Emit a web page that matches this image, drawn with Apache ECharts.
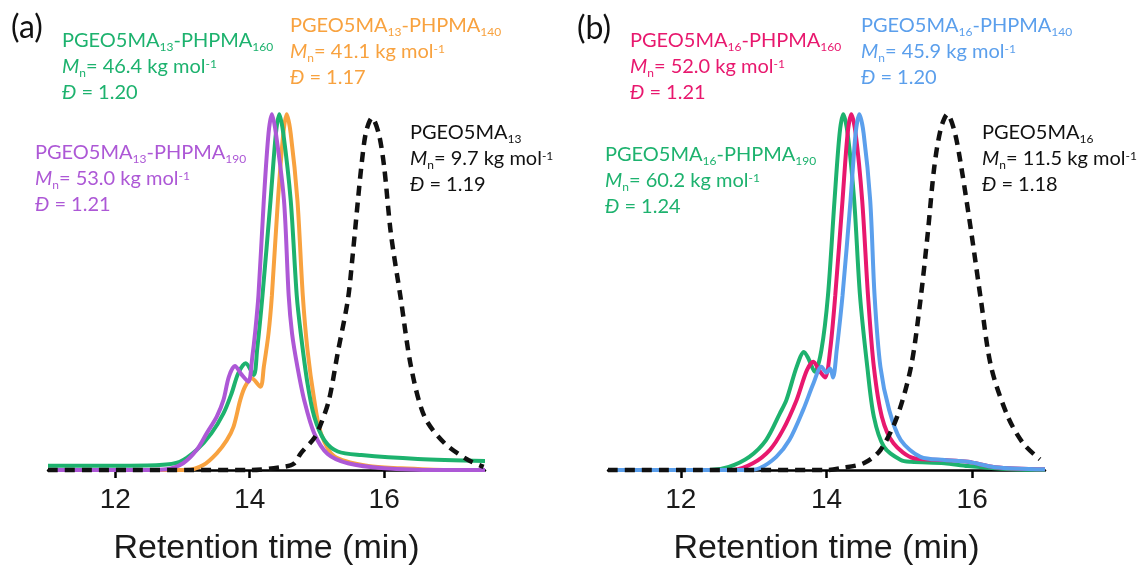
<!DOCTYPE html>
<html>
<head>
<meta charset="utf-8">
<script src="https://cdn.jsdelivr.net/npm/echarts@6/dist/echarts.min.js"></script>
<style>
  html, body { margin: 0; padding: 0; background: #fff; }
  #chart { width: 1142px; height: 565px; }
</style>
</head>
<body>
<div id="chart"></div>
<script>
// ---------- data (retention time in min, normalised RI signal) ----------
const xTickValues = [12, 14, 16];
const axisTitle = 'Retention time (min)';
const panelLabels = ['(a)', '(b)'];

// Panel (a): PGEO5MA13 series
const aPurple190 = [[11,0],[12.5,0],[12.76,0.002],[13.01,0.019],[13.21,0.056],[13.36,0.103],[13.51,0.15],[13.61,0.197],[13.69,0.262],[13.78,0.292],[13.88,0.268],[13.98,0.248],[14.04,0.32],[14.08,0.385],[14.13,0.49],[14.21,0.758],[14.28,0.946],[14.33,1.0],[14.39,0.946],[14.51,0.758],[14.58,0.49],[14.63,0.384],[14.71,0.29],[14.81,0.197],[14.96,0.103],[15.16,0.045],[15.46,0.019],[16.0,0.005],[16.8,0.0],[17.5,0]];
const aGreen160 = [[11,0.012],[12.0,0.012],[12.66,0.014],[12.96,0.023],[13.21,0.056],[13.43,0.103],[13.61,0.159],[13.73,0.215],[13.83,0.272],[13.94,0.30],[14.06,0.267],[14.11,0.337],[14.19,0.49],[14.31,0.758],[14.39,0.946],[14.44,1.0],[14.50,0.946],[14.61,0.758],[14.70,0.49],[14.76,0.384],[14.86,0.243],[14.96,0.15],[15.11,0.084],[15.31,0.052],[15.66,0.042],[16.5,0.031],[17.5,0.025]];
const aOrange140 = [[11,0],[13.06,0],[13.31,0.014],[13.51,0.047],[13.66,0.084],[13.76,0.122],[13.86,0.197],[13.93,0.234],[14.03,0.258],[14.16,0.234],[14.21,0.29],[14.28,0.384],[14.33,0.49],[14.42,0.758],[14.50,0.946],[14.55,1.0],[14.61,0.946],[14.71,0.758],[14.79,0.49],[14.86,0.337],[14.96,0.197],[15.06,0.103],[15.26,0.038],[15.76,0.011],[16.25,0.005],[17.0,0],[17.5,0]];
const aBlack13 = [[11,0],[14.0,0],[14.51,0.009],[14.66,0.018],[14.76,0.047],[14.96,0.09],[15.06,0.13],[15.18,0.197],[15.31,0.33],[15.46,0.478],[15.53,0.60],[15.61,0.758],[15.66,0.852],[15.73,0.95],[15.82,0.99],[15.92,0.945],[16.0,0.852],[16.1,0.665],[16.25,0.478],[16.4,0.29],[16.6,0.15],[16.9,0.075],[17.25,0.028],[17.48,0.009]];

// Panel (b): PGEO5MA16 series
const bGreen190 = [[11,0],[12.39,0],[12.66,0.009],[12.94,0.037],[13.17,0.084],[13.36,0.159],[13.45,0.197],[13.59,0.29],[13.69,0.332],[13.75,0.314],[13.84,0.276],[13.93,0.337],[14.02,0.49],[14.11,0.758],[14.18,0.946],[14.23,1.0],[14.29,0.946],[14.38,0.758],[14.46,0.49],[14.56,0.29],[14.65,0.15],[14.79,0.065],[15.02,0.028],[15.16,0.023],[15.62,0.019],[15.94,0.011],[16.54,0.002],[17,0]];
const bPink160 = [[11,0],[12.71,0],[12.99,0.019],[13.22,0.056],[13.40,0.112],[13.59,0.197],[13.73,0.28],[13.82,0.304],[13.90,0.28],[13.98,0.26],[14.05,0.337],[14.12,0.49],[14.22,0.758],[14.29,0.946],[14.34,1.0],[14.40,0.946],[14.49,0.758],[14.57,0.49],[14.65,0.29],[14.76,0.15],[14.92,0.075],[15.2,0.033],[15.62,0.028],[15.94,0.023],[16.31,0.008],[17,0.002]];
const bBlue140 = [[11,0],[12.9,0],[13.08,0.005],[13.31,0.037],[13.49,0.084],[13.68,0.169],[13.82,0.243],[13.93,0.29],[14.0,0.274],[14.05,0.285],[14.09,0.26],[14.14,0.337],[14.22,0.49],[14.33,0.758],[14.40,0.946],[14.45,1.0],[14.51,0.946],[14.60,0.758],[14.66,0.49],[14.74,0.29],[14.86,0.169],[15.02,0.084],[15.29,0.037],[15.62,0.028],[15.94,0.023],[16.31,0.008],[17,0.002]];
const bBlack16 = [[11,0],[14.0,0],[14.19,0.005],[14.51,0.019],[14.74,0.056],[14.97,0.15],[15.16,0.29],[15.29,0.478],[15.39,0.665],[15.48,0.852],[15.57,0.96],[15.66,1.0],[15.76,0.95],[15.85,0.852],[15.99,0.665],[16.12,0.478],[16.26,0.29],[16.49,0.15],[16.7,0.075],[16.93,0.03]];

// annotation texts
const aGreenText  = ['PGEO5MA', '13', '-PHPMA', '160', '46.4', '1.20'];
const aOrangeText = ['PGEO5MA', '13', '-PHPMA', '140', '41.1', '1.17'];
const aPurpleText = ['PGEO5MA', '13', '-PHPMA', '190', '53.0', '1.21'];
const aBlackText  = ['PGEO5MA', '13', '', '', '9.7', '1.19'];
const bPinkText   = ['PGEO5MA', '16', '-PHPMA', '160', '52.0', '1.21'];
const bBlueText   = ['PGEO5MA', '16', '-PHPMA', '140', '45.9', '1.20'];
const bGreenText  = ['PGEO5MA', '16', '-PHPMA', '190', '60.2', '1.24'];
const bBlackText  = ['PGEO5MA', '16', '', '', '11.5', '1.18'];

// ---------- styling ----------
const C = {
  green: '#1db26e', orange: '#f8a23f', purple: '#ad58d6',
  pink: '#e8186e', blue: '#5b9fec', black: '#111111'
};
const TXT_FONT = 'Lato';
const AX_FONT = 'Liberation Sans';

function rich(color) {
  return {
    t: { fontFamily: TXT_FONT, fontSize: 20, lineHeight: 26, color: color },
    i: { fontFamily: TXT_FONT, fontSize: 20, lineHeight: 26, fontStyle: 'italic', color: color },
    s: { fontFamily: TXT_FONT, fontSize: 12, verticalAlign: 'bottom', padding: [0, 0, 1, 0], color: color },
    p: { fontFamily: TXT_FONT, fontSize: 12, verticalAlign: 'top', padding: [4, 0, 0, 0], color: color }
  };
}
function block(parts, x, y, color) {
  let l1 = '{t|' + parts[0] + '}{s|' + parts[1] + '}';
  if (parts[2]) l1 += '{t|' + parts[2] + '}{s|' + parts[3] + '}';
  const l2 = '{i|M}{s|n}{t|= ' + parts[4] + ' kg mol}{p|-1}';
  const l3 = '{i|Đ}{t| = ' + parts[5] + '}';
  return {
    type: 'text', x: x, y: y, z: 100,
    style: { text: l1 + '\n' + l2 + '\n' + l3, rich: rich(color), fill: color }
  };
}

function xAxis(idx, max) {
  return {
    type: 'value', gridIndex: idx, min: 11, max: max,
    axisLine: { show: true, onZero: false, lineStyle: { color: '#000', width: 2.5 } },
    axisTick: { show: true, inside: false, length: 8, customValues: xTickValues, lineStyle: { color: '#000', width: 2.5 } },
    axisLabel: { show: true, customValues: xTickValues, margin: 16, fontFamily: AX_FONT, fontSize: 28, color: '#1a1a1a' },
    splitLine: { show: false },
    name: axisTitle, nameLocation: 'middle', nameGap: 62,
    nameTextStyle: { fontFamily: AX_FONT, fontSize: 34, color: '#1a1a1a' }
  };
}
function yAxis(idx) {
  return { type: 'value', gridIndex: idx, min: 0, max: 1.04, show: false, splitLine: { show: false } };
}
function line(data, idx, color, dashed, z) {
  return {
    type: 'line', xAxisIndex: idx, yAxisIndex: idx, data: data,
    showSymbol: false, symbol: 'none', smooth: 0.3, z: z, clip: false,
    lineStyle: dashed
      ? { color: color, width: 4.5, type: [10, 7] }
      : { color: color, width: 4 },
    silent: true, animation: false
  };
}

const chart = echarts.init(document.getElementById('chart'), null, { renderer: 'canvas' });
chart.setOption({
  animation: false,
  backgroundColor: '#ffffff',
  grid: [
    { left: 48, width: 437, top: 100, height: 370, containLabel: false, outerBoundsMode: 'none' },
    { left: 608, width: 437, top: 100, height: 370, containLabel: false, outerBoundsMode: 'none' }
  ],
  xAxis: [xAxis(0, 17.5), xAxis(1, 17)],
  yAxis: [yAxis(0), yAxis(1)],
  series: [
    line(aOrange140, 0, C.orange, false, 2),
    line(aGreen160, 0, C.green, false, 3),
    line(aPurple190, 0, C.purple, false, 4),
    line(aBlack13, 0, C.black, true, 5),
    line(bGreen190, 1, C.green, false, 2),
    line(bPink160, 1, C.pink, false, 3),
    line(bBlue140, 1, C.blue, false, 4),
    line(bBlack16, 1, C.black, true, 5)
  ],
  graphic: [
    { type: 'text', x: 11, y: 12, z: 100, style: { text: panelLabels[0], font: '32px Lato', fill: '#111' } },
    { type: 'text', x: 577, y: 13, z: 100, style: { text: panelLabels[1], font: '32px Lato', fill: '#111' } },
    block(aGreenText, 62, 28, C.green),
    block(aOrangeText, 290, 13, C.orange),
    block(aPurpleText, 35, 140, C.purple),
    block(aBlackText, 410, 120, '#111'),
    block(bPinkText, 630, 28, C.pink),
    block(bBlueText, 861, 13, C.blue),
    block(bGreenText, 605, 142, C.green),
    block(bBlackText, 982, 120, '#111')
  ]
});
</script>
</body>
</html>
